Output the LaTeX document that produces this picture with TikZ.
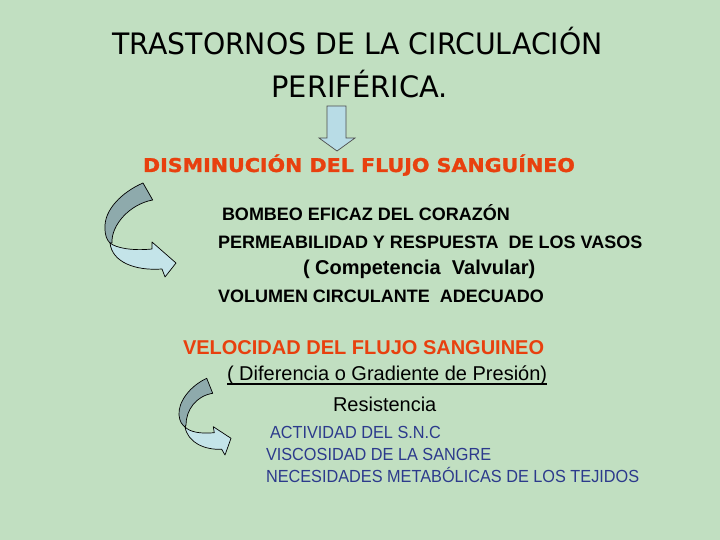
\documentclass[tikz,border=0pt]{standalone}
\usepackage{fontspec}
\setmainfont{Liberation Sans}
\newfontfamily\tahomafont{DejaVu Sans}
\newfontfamily\verdanabold[FakeBold=1.3]{DejaVu Sans Bold}
\usepackage{graphicx}
\definecolor{bgc}{RGB}{193,223,193}
\definecolor{redtxt}{RGB}{232,64,14}
\definecolor{bluetxt}{RGB}{44,58,140}
\definecolor{arrowlight}{RGB}{196,228,233}
\definecolor{arrowdark}{RGB}{142,170,172}
\definecolor{downfill}{RGB}{184,220,230}
\tikzset{
  txt/.style={anchor=base west, inner sep=0pt, outer sep=0pt},
  titletxt/.style={txt, font=\tahomafont\fontsize{29.5}{32}\selectfont},
  redhead/.style={txt, text=redtxt, font=\bfseries\fontsize{20}{22}\selectfont},
  blackbold/.style={txt, font=\bfseries\fontsize{18}{20}\selectfont},
  blackreg/.style={txt, font=\fontsize{20}{22}\selectfont},
  bluereg/.style={txt, text=bluetxt, font=\fontsize{17.5}{19}\selectfont},
  curvdark/.style={fill=arrowdark, draw=black, line width=0.7pt, line join=round},
  curvlight/.style={fill=arrowlight, draw=black, line width=0.7pt, line join=round},
}
\begin{document}
\begin{tikzpicture}[x=1pt,y=-1pt]
\fill[bgc] (0,0) rectangle (720,540);
\useasboundingbox (0,0) rectangle (720,540);

% title
\node[titletxt] (t1) at (112.5,54.7) {\scalebox{0.96}[1]{TRASTORNOS DE LA CIRCULACIÓN}};
\node[titletxt] (t2) at (271.5,97.5) {\scalebox{0.98}[1]{PERIFÉRICA.}};

% down arrow
\draw[fill=downfill, draw=black!70, line width=0.7pt]
  (327,106) -- (346,106) -- (346,138) -- (355,138) -- (337,151) -- (319,138) -- (327,138) -- cycle;

\node[txt, text=redtxt, font=\verdanabold\fontsize{19}{21}\selectfont] (dis) at (143,172)
  {\scalebox{1.085}[1]{DISMINUCIÓN DEL FLUJO SANGUÍNEO}};

% curved arrow 1
\draw[curvdark] (143,183) .. controls (122,192) and (104,210) .. (105,228)
  .. controls (105,236) and (107,240) .. (110,243) -- (112,243)
  .. controls (111,225) and (130,204) .. (152.7,200) -- cycle;
\draw[curvlight] (110,243) .. controls (116,248) and (132,251) .. (152,249)
  -- (152,242) -- (176,263) -- (165,277) -- (162,269)
  .. controls (135,271) and (112,262) .. (110,243) -- cycle;

\node[blackbold] (b1) at (222,221) {BOMBEO EFICAZ DEL CORAZÓN};
\node[blackbold] (b2) at (218,248) {PERMEABILIDAD Y RESPUESTA\ \ DE LOS VASOS};
\node[blackbold, font=\bfseries\fontsize{20}{22}\selectfont] (b3) at (303,274.5) {( Competencia\ \ Valvular)};
\node[blackbold] (b4) at (218,302) {VOLUMEN CIRCULANTE\ \ ADECUADO};

\node[redhead] (vel) at (183,354) {VELOCIDAD DEL FLUJO SANGUINEO};
\node[blackreg] (dif) at (227,380) {( Diferencia o Gradiente de Presión)};
\draw[line width=1.1pt] ([yshift=-4pt]dif.base west) -- ([yshift=-4pt]dif.base east);
\node[blackreg] (res) at (333,411) {Resistencia};

% curved arrow 2
\draw[curvdark] (206.7,378.3) .. controls (190,386) and (178,402) .. (179,415)
  .. controls (179.5,421) and (182,425) .. (185,427) -- (186,425)
  .. controls (186,410) and (196,396) .. (212.7,393.3) -- cycle;
\draw[curvlight] (185,427) .. controls (190,432) and (200,434) .. (214.3,432.7)
  -- (213.3,426.7) -- (231,438.3) -- (225,455) -- (221.7,449.3)
  .. controls (205,450) and (188,443) .. (185,427) -- cycle;

\node[bluereg] (c1) at (270,438) {\scalebox{0.93}[1]{ACTIVIDAD DEL S.N.C}};
\node[bluereg] (c2) at (266,460.5) {\scalebox{0.93}[1]{VISCOSIDAD DE LA SANGRE}};
\node[bluereg] (c3) at (266,482.5) {\scalebox{0.93}[1]{NECESIDADES METABÓLICAS DE LOS TEJIDOS}};
\end{tikzpicture}
\end{document}
